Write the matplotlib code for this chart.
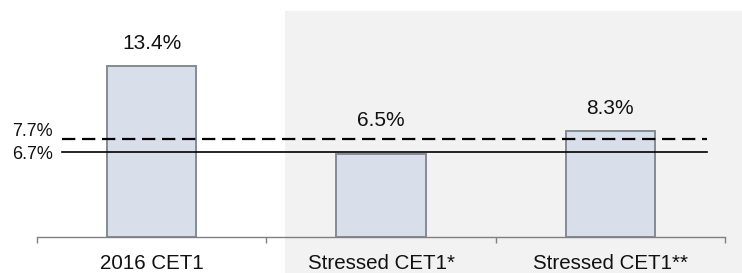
import matplotlib
matplotlib.use("Agg")
import matplotlib.pyplot as plt
from matplotlib.patches import Rectangle
from matplotlib.transforms import blended_transform_factory

categories = ["2016 CET1", "Stressed CET1*", "Stressed CET1**"]
values = [13.4, 6.5, 8.3]
value_labels = ["13.4%", "6.5%", "8.3%"]
threshold_dashed = 7.7
threshold_solid = 6.7
threshold_labels = ["7.7%", "6.7%"]

plt.rcParams['font.family'] = ['Liberation Sans', 'DejaVu Sans']

W, H = 742, 273
fig = plt.figure(figsize=(W / 100, H / 100), dpi=100)
fig.patch.set_facecolor('white')

# gray panel behind stressed columns
fig.patches.append(Rectangle((285 / W, 0), 1 - 285 / W, (H - 11) / H,
                             transform=fig.transFigure, facecolor='#f2f2f2',
                             edgecolor='none', zorder=-10))

ax = fig.add_axes([37 / W, (H - 237) / H, (725 - 37) / W, 229.7 / H])
ax.set_zorder(1)
ax.set_facecolor('none')
ax.set_xlim(-0.5, 2.5)
ax.set_ylim(0, 18)

x = list(range(len(categories)))
ax.bar(x, values, width=0.39, color='#d8deea', edgecolor='#858a94',
       linewidth=1.4, zorder=2)

for xi, v, lab in zip(x, values, value_labels):
    anchor = v if v >= threshold_dashed else threshold_dashed
    ax.annotate(lab, (xi, anchor), xytext=(0, 16.5 if v >= threshold_dashed else 13),
                textcoords='offset points', ha='center', va='center',
                fontsize=15, color='#111111')

ax.axhline(threshold_dashed, xmin=0.036, xmax=0.974, color='black',
           linestyle=(0, (6, 3)), linewidth=1.6, zorder=3)
ax.axhline(threshold_solid, xmin=0.036, xmax=0.974, color='black',
           linewidth=1.2, zorder=3)

tr = blended_transform_factory(ax.transAxes, ax.transData)
ax.annotate(threshold_labels[0], (0.023, threshold_dashed), xycoords=tr,
            xytext=(0, 5), textcoords='offset points', ha='right',
            va='center', fontsize=13, color='#111111')
ax.annotate(threshold_labels[1], (0.023, threshold_solid), xycoords=tr,
            xytext=(0, -2), textcoords='offset points', ha='right',
            va='center', fontsize=13, color='#111111')

for s in ['top', 'right', 'left']:
    ax.spines[s].set_visible(False)
ax.spines['bottom'].set_color('#808080')
ax.spines['bottom'].set_linewidth(1.0)
ax.set_yticks([])
ax.set_xticks(x)
ax.set_xticklabels(categories, fontsize=14.8, color='#111111')
ax.tick_params(axis='x', which='major', length=0, pad=12)
ax.set_xticks([-0.5, 0.5, 1.5, 2.5], minor=True)
ax.tick_params(axis='x', which='minor', length=4, color='#808080', width=1.0)

fig.savefig('out.png', dpi=100)
